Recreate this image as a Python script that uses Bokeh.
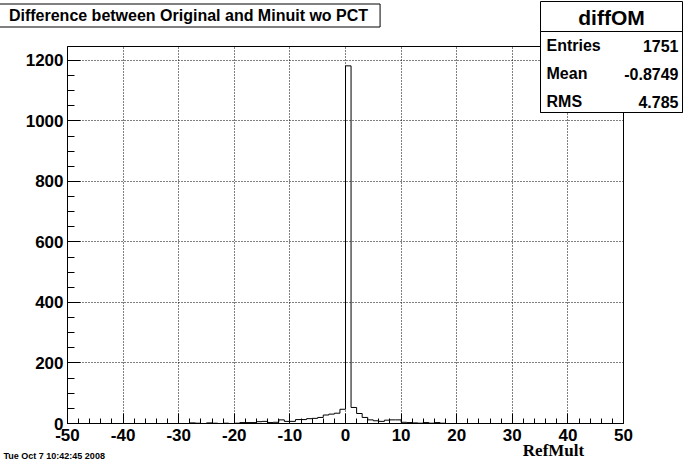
from bokeh.plotting import figure
from bokeh.models import Range1d, FixedTicker, ColumnDataSource
from bokeh.core.properties import value
from bokeh.embed import file_html
from bokeh.resources import INLINE

# ---- data ----
bin_lo = -50
bin_hi = 50
bin_width = 1
nonzero_edges = [-28, -27, -25, -24, -22, -20, -19, -18, -17, -16, -15, -14, -13,
                 -12, -11, -10, -9, -8, -7, -6, -5, -4, -3, -2, -1, 0,
                 1, 2, 3, 4, 5, 6, 7, 8, 9, 10, 11, 12, 13, 14, 15, 16, 17]
nonzero_counts = [2, 1, 2, 1, 1, 1, 3, 3, 3, 6, 7, 3, 4,
                  12, 7, 7, 13, 13, 16, 17, 20, 28, 31, 34, 47, 1182,
                  53, 33, 20, 12, 9, 7, 11, 12, 12, 4, 3, 2, 1, 3, 1, 3, 1]
x_major_ticks = [-50, -40, -30, -20, -10, 0, 10, 20, 30, 40, 50]
x_minor_ticks = list(range(-50, 51, 2))
y_major_ticks = [0, 200, 400, 600, 800, 1000, 1200]
y_minor_ticks = list(range(0, 1251, 50))
y_max = 1246

title_text = "Difference between Original and Minuit wo PCT"
stats_name = "diffOM"
stats_labels = ["Entries", "Mean", "RMS"]
stats_values = ["1751", "-0.8749", "4.785"]
x_title = "RefMult"
date_text = "Tue Oct  7 10:42:45 2008"

nbins = int((bin_hi - bin_lo) / bin_width)
counts = [0] * nbins
for e, c in zip(nonzero_edges, nonzero_counts):
    counts[int((e - bin_lo) / bin_width)] = c
xs, ys = [bin_lo], [0]
for i, c in enumerate(counts):
    left = bin_lo + i * bin_width
    xs += [left, left + bin_width]
    ys += [c, c]
xs.append(bin_hi)
ys.append(0)

W, H = 683, 462
FL, FR, FT, FB = 67, 623, 46, 423   # frame edges on the canvas
p = figure(width=W, height=H, output_backend="svg", toolbar_location=None,
           x_range=Range1d(bin_lo, bin_hi), y_range=Range1d(0, y_max),
           min_border_left=FL, min_border_right=W - FR, min_border_top=FT, min_border_bottom=H - FB)
# extra ranges in canvas pixels, used only to place the decorations
p.extra_x_ranges = {"px": Range1d(FL, FR)}
p.extra_y_ranges = {"px": Range1d(FB, FT)}
p.background_fill_color = "white"
p.border_fill_color = "white"
p.outline_line_color = "black"
p.outline_line_width = 1

p.line(xs, ys, line_color="black", line_width=1)

font = "Liberation Sans"
for ax, maj, mnr, tin, tmin in ((p.xaxis[0], x_major_ticks, x_minor_ticks, 10, 5),
                                (p.yaxis[0], y_major_ticks, y_minor_ticks, 13, 7)):
    ax.ticker = FixedTicker(ticks=maj, minor_ticks=mnr)
    ax.major_label_overrides = {t: str(t) for t in maj}
    ax.major_tick_in = tin
    ax.major_tick_out = 0
    ax.minor_tick_in = tmin
    ax.minor_tick_out = 0
    ax.axis_line_color = "black"
    ax.major_tick_line_color = "black"
    ax.minor_tick_line_color = "black"
    ax.major_label_text_font = font
    ax.major_label_text_font_style = "bold"
    ax.major_label_text_font_size = "17px"
    ax.major_label_text_color = "black"
p.xaxis.major_label_standoff = 5
p.yaxis.major_label_standoff = 4

for g in (p.xgrid[0], p.ygrid[0]):
    g.grid_line_color = "black"
    g.grid_line_dash = "1 2"
    g.grid_line_width = 1

PX = dict(x_range_name="px", y_range_name="px", level="overlay")

# stats box: outer box and lower box (its top edge is the divider)
sb_l, sb_r, sb_t, sb_b, sb_div = 540, 682, 1, 112, 31
p.quad(left=[sb_l, sb_l], right=[sb_r, sb_r], top=[sb_t, sb_div], bottom=[sb_b, sb_b],
       fill_color="white", line_color="black", line_width=1, **PX)

def texts(items, align, size, f=font, **kw):
    # items: (target_x, target_y, text, anchor_x, anchor_y); anchors are inside the frame
    src = ColumnDataSource(dict(
        x=[it[3] for it in items], y=[it[4] for it in items], text=[it[2] for it in items],
        xo=[it[0] - it[3] for it in items], yo=[it[1] - it[4] for it in items]))
    p.text(x="x", y="y", text="text", x_offset="xo", y_offset="yo", source=src,
           text_align=align, text_baseline="middle", text_font=value(f),
           text_font_style="bold", text_font_size=size, text_color="black", **kw, **PX)

# title with its box
texts([(188, 15, title_text, 188, 60)], "center", "16px",
      border_line_color="black", border_line_width=1, background_fill_color="white",
      padding=dict(left=12, right=12, top=3, bottom=3))
# stats
texts([(611, 17, stats_name, 600, 60)], "center", "21px")
row_y = [45, 73, 101]
texts([(546, ry, lab, 546, 60) for lab, ry in zip(stats_labels, row_y)], "left", "16px")
texts([(678, ry, val, 600, 60) for val, ry in zip(stats_values, row_y)], "right", "16px")
# axis title and date
texts([(553, 450, x_title, 553, 400)], "center", "17px", f="Liberation Serif")
texts([(3, 455, date_text, 100, 400)], "left", "9px")

open("out.html", "w").write(file_html(p, INLINE))
